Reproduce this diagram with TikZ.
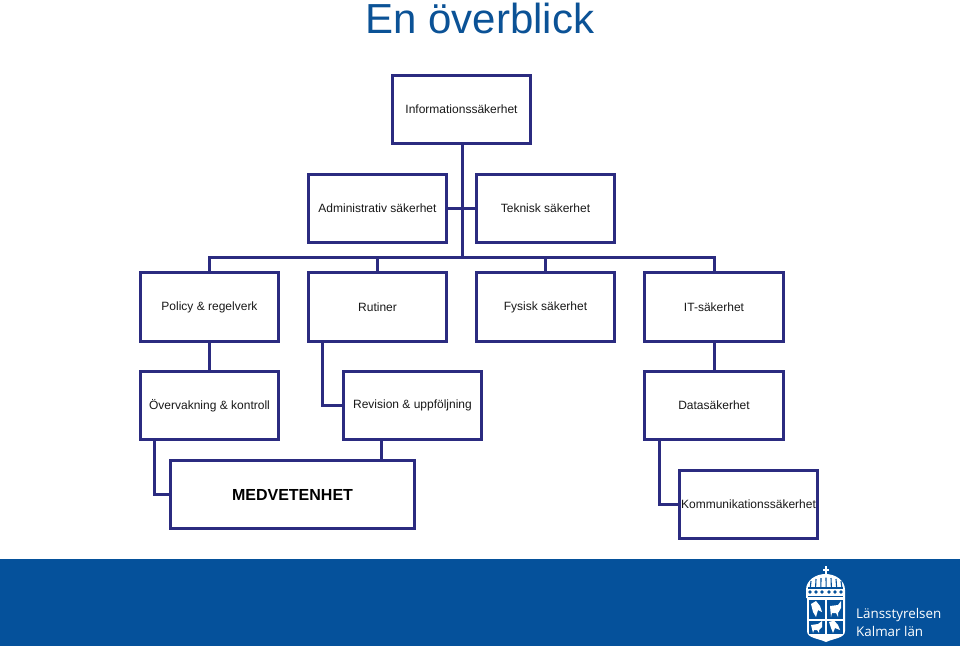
\documentclass[tikz,border=0pt]{standalone}
\usepackage{fontspec}
\setmainfont{Liberation Sans}
\newfontfamily\logofont{Open Sans}
\definecolor{bandblue}{HTML}{05519B}
\definecolor{titleblue}{HTML}{0B5296}
\definecolor{boxline}{HTML}{2B2B80}
\tikzset{
  orgbox/.style={draw=boxline,line width=3pt,fill=white,inner sep=0pt,minimum width=138.5pt,minimum height=68.5pt,font=\fontsize{12}{14}\selectfont,text=black!90},
  link/.style={draw=boxline,line width=3pt,line cap=butt},
  crownw/.style={fill=white,draw=none},
  shieldc/.style={fill=bandblue,draw=none},
  logotext/.style={anchor=west,text=white,font=\logofont\fontsize{13.4}{16}\selectfont,inner sep=0pt}
}
\begin{document}
\begin{tikzpicture}[x=1pt,y=-1pt]
\useasboundingbox (0,0) rectangle (960,646);
\fill[white] (0,0) rectangle (960,646);
\fill[bandblue] (0,559) rectangle (960,646);
\node[text=titleblue,font=\fontsize{42}{46}\selectfont,anchor=center] (title) at (480,18) {En överblick};
\coordinate (busl) at (209.5,257);
\coordinate (busr) at (714,257);
\coordinate (trunk) at (462,257);
\coordinate (rc) at (322,405.5);
\coordinate (oc) at (154,494.5);
\coordinate (dc) at (659,504.5);
\node[orgbox] (info) at (461.5,109.5) {Informationssäkerhet};
\node[orgbox] (adm) at (377.5,208.5) {Administrativ säkerhet};
\node[orgbox] (tek) at (545.5,208.5) {Teknisk säkerhet};
\node[orgbox] (pol) at (209.5,307) {Policy \& regelverk};
\node[orgbox] (rut) at (377.5,307) {Rutiner};
\node[orgbox] (fys) at (545.5,307) {Fysisk säkerhet};
\node[orgbox] (itn) at (714,307) {IT-säkerhet};
\node[orgbox] (ove) at (209.5,405.5) {Övervakning \& kontroll};
\node[orgbox] (rev) at (412.5,405.5) {Revision \& uppföljning};
\node[orgbox] (dat) at (714,405.5) {Datasäkerhet};
\node[orgbox,minimum width=244.5pt,font=\bfseries\fontsize{16}{18}\selectfont,text=black] (med) at (292.5,494.5) {MEDVETENHET};
\node[orgbox] (kom) at (748.5,504.5) {Kommunikationssäkerhet};
\draw[link] (info.south -| trunk) -- (trunk);
\draw[link] (adm.east) -- (tek.west);
\draw[link,line cap=rect] (busl) -- (busr);
\draw[link] (busl) -- (pol.north);
\draw[link] (rut.north |- busl) -- (rut.north);
\draw[link] (fys.north |- busl) -- (fys.north);
\draw[link] (busr) -- (itn.north);
\draw[link] (pol.south) -- (ove.north);
\draw[link] (itn.south) -- (dat.north);
\draw[link] (rut.south -| rc) -- (rc) -- (rev.west);
\draw[link] (ove.south -| oc) -- (oc) -- (med.west);
\draw[link] (dat.south -| dc) -- (dc) -- (kom.west);
\draw[link] (381,438) -- (med.north -| 381,0);
% logo: cross and crown
\fill[crownw] (824.5,566) rectangle (826.5,575);
\fill[crownw] (822.5,568.5) rectangle (828.5,570.5);
\fill[crownw] (806,598) -- (806,590) .. controls (806,580) and (816,574) .. (825.5,574) .. controls (835,574) and (845,580) .. (845,590) -- (845,598) -- cycle;
\foreach \x/\y in {811/579,816/577,821/576,826/575.5,831/576,836/577,841/579}
  \draw[bandblue,line width=1.1pt] (\x,\y+2) -- (825.5+1.05*\x-866.7,587);
\fill[shieldc] (808,587) rectangle (843,589);
\foreach \x in {810,816,822,829,835,841} \fill[shieldc] (\x,592) circle (1.8);
\fill[shieldc] (808,595.5) rectangle (843,596.5);
% logo: shield
\fill[crownw] (807,598) -- (845,598) -- (845,631) .. controls (845,638) and (835,638) .. (826,642) .. controls (817,638) and (807,638) .. (807,631) -- cycle;
\foreach \a/\b/\c/\d in {809/600/824.5/619, 827/600/843/619, 809/620.5/824.5/634, 827/620.5/843/634}
  \fill[shieldc] (\a,\b) rectangle (\c,\d);
\fill[crownw] (811,604) -- (816,601) -- (820,606) -- (822,612) -- (818,610) -- (816,617) -- (813,612) -- cycle;
\fill[crownw] (830,606) -- (838,605) -- (841,601) -- (841,608) -- (838,613) -- (838,617) -- (836,613) -- (832,613) -- (831,617) -- cycle;
\fill[crownw] (829,622) -- (834,620.5) -- (838,625) -- (840,630) -- (835,628) -- (833,633) -- (831,628) -- cycle;
\fill[crownw] (811,625) -- (818,624) -- (822,621) -- (822,627) -- (819,630) -- (819,633) -- (817,630) -- (814,630) -- (813,633) -- cycle;
\node[logotext] (lan) at (856,615.5) {Länsstyrelsen};
\node[logotext] (kal) at (856,631) {Kalmar län};
\end{tikzpicture}
\end{document}
